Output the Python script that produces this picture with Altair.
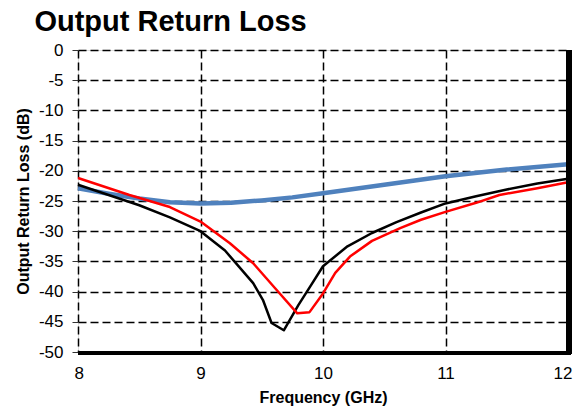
import altair as alt
import pandas as pd

black_x = [8.0, 8.25, 8.5, 8.75, 9.0, 9.2, 9.43, 9.51, 9.58, 9.68, 9.8, 9.9, 10.0, 10.2, 10.4, 10.6, 10.8, 11.0, 11.25, 11.5, 11.75, 12.0]
black_y = [-22.3, -24.0, -25.7, -27.7, -30.0, -33.2, -38.6, -41.4, -45.2, -46.4, -42.2, -39.0, -35.8, -32.5, -30.3, -28.5, -26.9, -25.4, -24.2, -23.1, -22.1, -21.3]

red_x = [8.0, 8.42, 8.75, 9.0, 9.24, 9.43, 9.62, 9.79, 9.89, 10.0, 10.1, 10.22, 10.4, 10.63, 10.8, 11.0, 11.25, 11.44, 11.75, 12.0]
red_y = [-21.2, -24.0, -26.0, -28.4, -32.0, -35.3, -39.7, -43.6, -43.4, -40.3, -36.9, -34.2, -31.6, -29.5, -28.1, -26.8, -25.3, -24.0, -22.9, -21.9]

blue_x = [8.0, 8.25, 8.5, 8.75, 9.0, 9.25, 9.5, 9.75, 10.0, 10.5, 11.0, 11.5, 12.0]
blue_y = [-22.9, -23.8, -24.6, -25.2, -25.4, -25.3, -24.9, -24.4, -23.7, -22.3, -20.9, -19.8, -18.9]

x_ticks = [8, 9, 10, 11, 12]
y_ticks = list(range(-50, 1, 5))

def frame(xs, ys, name):
    return pd.DataFrame({"f": xs, "v": ys, "s": name, "i": list(range(len(xs)))})

df = pd.concat([frame(blue_x, blue_y, "blue"), frame(black_x, black_y, "black"), frame(red_x, red_y, "red")])

W, H = 490, 302
FONT = "Liberation Sans"

xs = alt.Scale(domain=[8, 12], nice=False)
ys = alt.Scale(domain=[-50, 0], nice=False)

base = alt.Chart(df)

def series(name, color, width):
    return base.transform_filter(alt.datum.s == name).mark_line(
        color=color, strokeWidth=width, strokeJoin="round"
    ).encode(
        x=alt.X("f:Q", scale=xs, axis=alt.Axis(
            values=x_ticks, title="Frequency (GHz)", grid=True, gridDash=[8, 4], gridColor="black",
            gridWidth=1.5, gridOpacity=1, ticks=False, domain=False, labelFontSize=17, labelFont=FONT,
            labelColor="black", labelPadding=13, labelFlush=True, labelFlushOffset=4,
            labelExpr="'' + datum.value",
            titleFont=FONT, titleFontSize=16, titleFontWeight="bold",
            titleColor="black", titlePadding=8)),
        y=alt.Y("v:Q", scale=ys, axis=alt.Axis(
            values=y_ticks, title="Output Return Loss (dB)", grid=True, gridDash=[8, 4], gridColor="black",
            gridWidth=1.5, gridOpacity=1, ticks=True, tickSize=6, tickColor="#333333", domain=False,
            labelFontSize=17, labelFont=FONT, labelColor="black", labelPadding=9, labelFlush=False,
            labelExpr="'' + datum.value", titleFont=FONT,
            titleFontSize=16, titleFontWeight="bold", titleColor="black", titlePadding=7)),
        order="i:Q",
    )

right_edge = alt.Chart(df).mark_rule(color="black", strokeWidth=5).encode(
    x=alt.value(W + 1), y=alt.value(0), y2=alt.value(H + 2))
bottom_edge = alt.Chart(df).mark_rule(color="black", strokeWidth=4).encode(
    x=alt.value(0), x2=alt.value(W + 3), y=alt.value(H + 1))

chart = alt.layer(
    series("blue", "#4F81BD", 4.5),
    series("black", "black", 2.5),
    series("red", "#FF0000", 2.5),
    right_edge, bottom_edge,
).properties(
    width=W, height=H,
    title=alt.TitleParams("Output Return Loss", anchor="start", font=FONT, fontSize=29,
                          fontWeight="bold", color="black", dx=19, offset=4),
    autosize="none",
    padding={"left": 70, "top": 42, "right": 5, "bottom": 55},
).configure_view(stroke="#333333", strokeWidth=2.5).configure(background="white")

chart.save("out.html", embed_options={"renderer": "svg", "actions": False})
